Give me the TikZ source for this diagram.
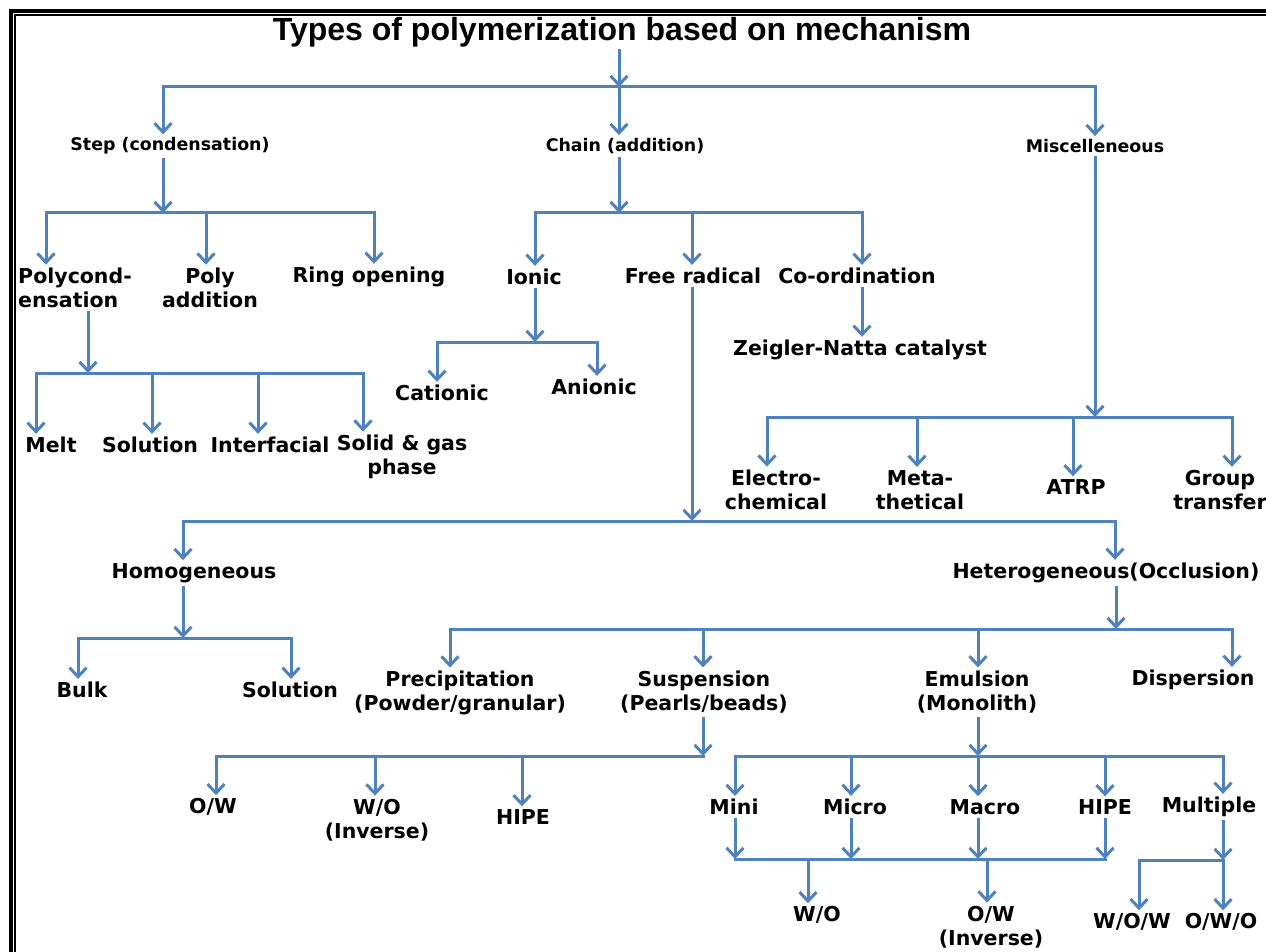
\documentclass[tikz,border=0pt]{standalone}
\usepackage{fontspec}
\usepackage{xcolor}
\usepackage{tikz}
\usetikzlibrary{arrows.meta}
\newfontfamily\lblfont{DejaVu Sans}
\newfontfamily\headfont{Liberation Sans}
\definecolor{ArrBlue}{HTML}{4F81BD}
\tikzset{
  heading/.style={font=\headfont\bfseries\fontsize{32}{36}\selectfont,inner sep=2pt},
  lbl/.style={font=\lblfont\bfseries\fontsize{20.5}{24.5}\selectfont,align=center,inner sep=3pt},
  sml/.style={font=\lblfont\bfseries\fontsize{17.4}{20}\selectfont,inner sep=3pt},
  arr/.style={draw=ArrBlue,line width=3pt,-{Straight Barb[length=9pt,width=17pt]}},
  bus/.style={draw=ArrBlue,line width=3pt,line cap=rect}}
\begin{document}
\begin{tikzpicture}[x=1pt,y=-1pt]
\useasboundingbox (0,0) rectangle (1266,952);
\fill[white] (0,0) rectangle (1266,952);
\draw[line width=4pt] (11,952) -- (11,11) -- (1266,11);
\draw[line width=1.5pt] (15,952) -- (15,15) -- (1266,15);

\node[heading] (top) at (622,32) {Types of polymerization based on mechanism};
\node[sml] (step) at (170,146) {Step (condensation)};
\node[sml] (chain) at (625,146) {Chain (addition)};
\node[sml] (misc) at (1095,146) {Miscelleneous};
\draw[arr] (top.south -| 619,0) -- (619,87);
\draw[bus] (163,87) -- (1095,87);
\draw[arr] (163,87) -- (step.north -| 163,0);
\draw[arr] (619,87) -- (chain.north -| 619,0);
\draw[arr] (1095,87) -- (misc.north -| 1095,0);

\node[lbl,align=left] (pcond) at (75,288) {Polycond-\\ensation};
\node[lbl] (padd) at (210,288) {Poly\\addition};
\node[lbl] (ring) at (369,277) {Ring opening};
\draw[arr] (step.south -| 163,0) -- (163,213);
\draw[bus] (46,213) -- (374,213);
\draw[arr] (46,213) -- (pcond.north -| 46,0);
\draw[arr] (206,213) -- (padd.north -| 206,0);
\draw[arr] (374,213) -- (ring.north -| 374,0);

\node[lbl] (melt) at (51,445) {Melt};
\node[lbl] (sol1) at (150,445) {Solution};
\node[lbl] (intf) at (270,445) {Interfacial};
\node[lbl] (sgp) at (402,457) {Solid \& gas\\phase};
\draw[arr] (pcond.south -| 88,0) -- (88,373);
\draw[bus] (36,373) -- (363,373);
\draw[arr] (36,373) -- (melt.north -| 36,0);
\draw[arr] (152,373) -- (sol1.north -| 152,0);
\draw[arr] (258,373) -- (intf.north -| 258,0);
\draw[arr] (363,373) -- (sgp.north -| 363,0);

\node[lbl] (ionic) at (534,277) {Ionic};
\node[lbl] (frad) at (693,276) {Free radical};
\node[lbl] (coord) at (857,276) {Co-ordination};
\draw[arr] (chain.south -| 619,0) -- (619,213);
\draw[bus] (535,213) -- (862,213);
\draw[arr] (535,213) -- (ionic.north -| 535,0);
\draw[arr] (692,213) -- (frad.north -| 692,0);
\draw[arr] (862,213) -- (coord.north -| 862,0);

\node[lbl] (cat) at (442,393) {Cationic};
\node[lbl] (ani) at (594,387) {Anionic};
\draw[arr] (ionic.south -| 535,0) -- (535,342);
\draw[bus] (437,342) -- (597,342);
\draw[arr] (437,342) -- (cat.north -| 437,0);
\draw[arr] (597,342) -- (ani.north -| 597,0);

\node[lbl] (zn) at (860,350) {Zeigler-Natta catalyst};
\draw[arr] (coord.south -| 862,0) -- (zn.north -| 862,0);

\node[lbl] (echem) at (776,490) {Electro-\\chemical};
\node[lbl] (meta) at (920,490) {Meta-\\thetical};
\node[lbl] (atrp) at (1076,487) {ATRP};
\node[lbl] (grp) at (1220,490) {Group\\transfer};
\draw[arr] (misc.south -| 1095,0) -- (1095,417);
\draw[bus] (767,417) -- (1232,417);
\draw[arr] (767,417) -- (echem.north -| 767,0);
\draw[arr] (917,417) -- (meta.north -| 917,0);
\draw[arr] (1073,417) -- (atrp.north -| 1073,0);
\draw[arr] (1232,417) -- (grp.north -| 1232,0);

\node[lbl] (homo) at (194,573) {Homogeneous};
\node[lbl] (hetero) at (1106,573) {Heterogeneous(Occlusion)};
\draw[arr] (frad.south -| 692,0) -- (692,521);
\draw[bus] (183,521) -- (1115,521);
\draw[arr] (183,521) -- (homo.north -| 183,0);
\draw[arr] (1115,521) -- (hetero.north -| 1115,0);

\node[lbl] (bulk) at (82,690) {Bulk};
\node[lbl] (sol2) at (290,690) {Solution};
\draw[arr] (homo.south -| 183,0) -- (183,638);
\draw[bus] (78,638) -- (291,638);
\draw[arr] (78,638) -- (bulk.north -| 78,0);
\draw[arr] (291,638) -- (sol2.north -| 291,0);

\node[lbl] (prec) at (460,693) {Precipitation\\(Powder/granular)};
\node[lbl] (susp) at (704,692) {Suspension\\(Pearls/beads)};
\node[lbl] (emul) at (977,692) {Emulsion\\(Monolith)};
\node[lbl] (disp) at (1193,680) {Dispersion};
\draw[arr] (hetero.south -| 1116,0) -- (1116,629);
\draw[bus] (450,629) -- (1232,629);
\draw[arr] (450,629) -- (prec.north -| 450,0);
\draw[arr] (703,629) -- (susp.north -| 703,0);
\draw[arr] (978,629) -- (emul.north -| 978,0);
\draw[arr] (1232,629) -- (disp.north -| 1232,0);

\node[lbl] (ow1) at (213,807) {O/W};
\node[lbl] (wo1) at (377,820) {W/O\\(Inverse)};
\node[lbl] (hipe1) at (523,817) {HIPE};
\draw[arr] (susp.south -| 703,0) -- (703,756);
\draw[bus] (216,756) -- (703,756);
\draw[arr] (216,756) -- (ow1.north -| 216,0);
\draw[arr] (375,756) -- (wo1.north -| 375,0);
\draw[arr] (522,756) -- (hipe1.north -| 522,0);

\node[lbl] (mini) at (734,807) {Mini};
\node[lbl] (micro) at (855,807) {Micro};
\node[lbl] (macro) at (985,807) {Macro};
\node[lbl] (hipe2) at (1105,807) {HIPE};
\node[lbl] (multi) at (1209,807) {Multiple};
\draw[arr] (emul.south -| 978,0) -- (978,756);
\draw[bus] (735,756) -- (1223,756);
\draw[arr] (735,756) -- (mini.north -| 735,0);
\draw[arr] (851,756) -- (micro.north -| 851,0);
\draw[arr] (978,756) -- (macro.north -| 978,0);
\draw[arr] (1105,756) -- (hipe2.north -| 1105,0);
\draw[arr] (1223,756) -- (multi.north -| 1223,0);

\node[lbl] (wo2) at (817,915) {W/O};
\node[lbl] (ow2) at (991,927) {O/W\\(Inverse)};
\draw[arr] (mini.south -| 735,0) -- (735,859);
\draw[arr] (micro.south -| 851,0) -- (851,859);
\draw[arr] (macro.south -| 978,0) -- (978,859);
\draw[arr] (hipe2.south -| 1105,0) -- (1105,859);
\draw[bus] (735,859) -- (1105,859);
\draw[arr] (808,859) -- (wo2.north -| 808,0);
\draw[arr] (987,859) -- (ow2.north -| 987,0);

\node[lbl] (wow) at (1132,922) {W/O/W};
\node[lbl] (owo) at (1221,922) {O/W/O};
\draw[arr] (multi.south -| 1223,0) -- (1223,860);
\draw[bus] (1139,860) -- (1223,860);
\draw[arr] (1139,860) -- (wow.north -| 1139,0);
\draw[arr] (1223,860) -- (owo.north -| 1223,0);
\end{tikzpicture}
\end{document}
